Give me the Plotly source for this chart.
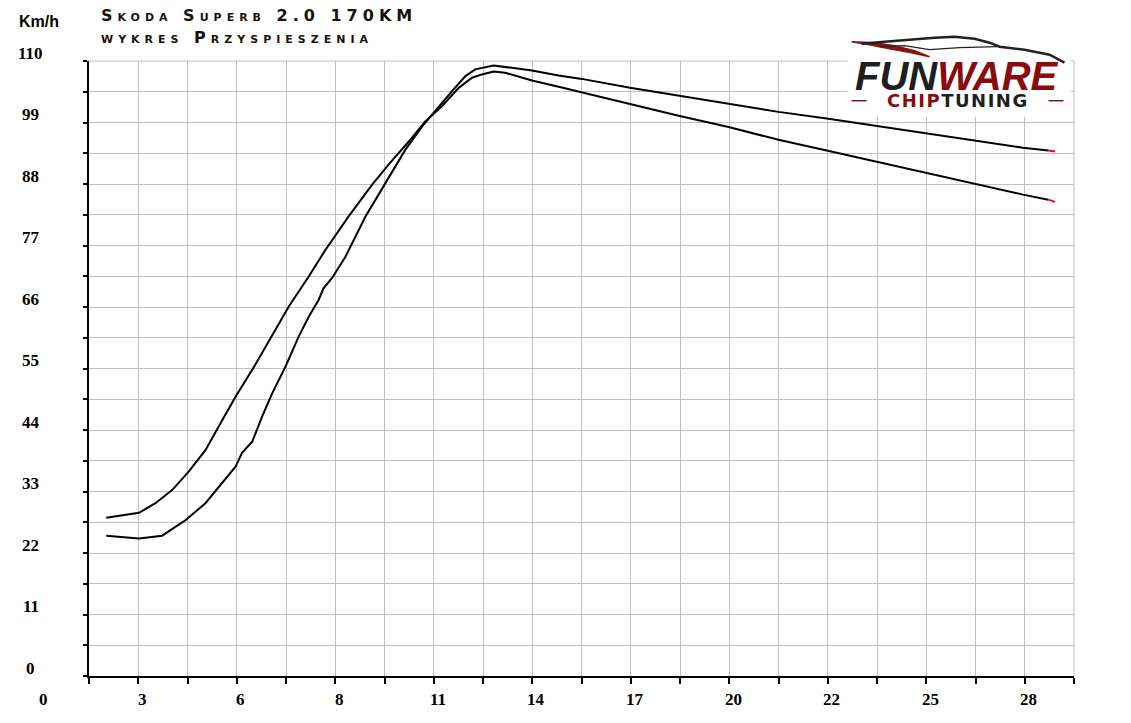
import plotly.graph_objects as go

# ---------------- data ----------------
x_tick_vals = [0, 2.8, 5.6, 8.4, 11.2, 14.0, 16.8, 19.6, 22.4, 25.2, 28.0]
x_tick_text = ["0", "3", "6", "8", "11", "14", "17", "20", "22", "25", "28"]
y_tick_vals = [0, 11, 22, 33, 44, 55, 66, 77, 88, 99, 110]
y_tick_text = ["0", "11", "22", "33", "44", "55", "66", "77", "88", "99", "110"]

time_a = [1.89, 2.82, 3.29, 3.77, 4.24, 4.71, 5.19, 5.57, 6.13, 6.61, 7.08, 7.65, 8.12,
          8.78, 9.45, 9.92, 10.49, 10.96, 11.43, 11.91, 12.29, 12.57, 12.90, 13.23, 13.99,
          14.75, 15.41, 16.78, 18.16, 19.58, 21.00, 22.37, 23.77, 25.16, 26.58, 27.95,
          28.67, 28.86]
speed_a = [28.3, 29.2, 30.9, 33.3, 36.6, 40.4, 45.8, 50.0, 55.7, 61.0, 66.1, 71.5, 76.2,
           82.2, 87.9, 91.5, 95.6, 99.2, 101.9, 105.2, 107.0, 107.6, 108.1, 107.9, 106.5,
           105.4, 104.4, 102.3, 100.2, 98.2, 95.9, 94.0, 92.0, 90.0, 88.0, 86.1,
           85.2, 84.8]

time_b = [1.89, 2.82, 3.48, 4.15, 4.71, 5.19, 5.57, 5.75, 6.04, 6.32, 6.61, 6.99, 7.36,
          7.65, 7.93, 8.07, 8.31, 8.69, 9.26, 9.83, 10.39, 10.87, 11.15, 11.72, 12.10,
          12.38, 12.90, 13.23, 13.99, 14.75, 15.41, 16.78, 18.16, 19.58, 21.00, 22.37,
          23.77, 25.16, 26.58, 27.95, 28.67, 28.86]
speed_b = [25.1, 24.6, 25.1, 27.9, 30.9, 34.5, 37.5, 39.9, 41.9, 46.4, 50.6, 55.4, 60.7,
           64.3, 67.3, 69.4, 71.2, 75.0, 82.2, 88.2, 94.1, 98.3, 100.4, 104.6, 107.3,
           108.5, 109.2, 108.9, 108.3, 107.4, 106.8, 105.2, 103.8, 102.3, 100.9, 99.7,
           98.4, 97.2, 95.9, 94.5, 94.0, 93.8]

title_1 = "Skoda Superb 2.0 170KM"
title_2 = "wykres Przyspieszenia"
unit_label = "Km/h"

X_MIN, X_MAX = 1.4, 29.4
Y_MIN, Y_MAX = 0, 110

# ---------------- layout geometry (page pixels) ----------------
OFF = 8  # default body margin of the html page
W, H = 1131 - OFF, 723 - OFF
L, R, T, B = 89.3, 1074.5, 61.3, 676.0
PW, PH = R - L, B - T


def px(xp):
    return (xp - L) / PW


def py(yp):
    return (B - yp) / PH


def path_px(points, close=False):
    s = "M " + " L ".join(f"{px(a):.5f},{py(b):.5f}" for a, b in points)
    return s + (" Z" if close else "")


fig = go.Figure()

for t, s in ((time_a, speed_a), (time_b, speed_b)):
    fig.add_trace(go.Scatter(x=t[:-1], y=s[:-1], mode="lines",
                             line=dict(color="black", width=2), hoverinfo="skip",
                             showlegend=False))
    fig.add_trace(go.Scatter(x=t[-2:], y=s[-2:], mode="lines",
                             line=dict(color="#ff0000", width=2), hoverinfo="skip",
                             showlegend=False))

grid = "#c0c0c0"
fig.update_xaxes(range=[X_MIN, X_MAX], tick0=X_MIN, dtick=1.4, showgrid=True,
                 gridcolor=grid, gridwidth=1, showline=True, linecolor="black",
                 linewidth=2, ticks="outside", ticklen=6, tickcolor="black",
                 tickwidth=1.5, showticklabels=False, zeroline=False, fixedrange=True)
fig.update_yaxes(range=[Y_MIN, Y_MAX], tick0=0, dtick=5.5, showgrid=True,
                 gridcolor=grid, gridwidth=1, showline=True, linecolor="black",
                 linewidth=2, ticks="outside", ticklen=4, tickcolor="black",
                 tickwidth=1.5, showticklabels=False, zeroline=False, fixedrange=True)

shapes = [
    dict(type="line", xref="paper", yref="paper", x0=0, x1=1, y0=1, y1=1,
         line=dict(color=grid, width=1), layer="below"),
    dict(type="line", xref="paper", yref="paper", x0=1, x1=1, y0=0, y1=1,
         line=dict(color=grid, width=1), layer="below"),
    # logo white background
    dict(type="rect", xref="paper", yref="paper", x0=px(848), x1=px(1071),
         y0=py(117), y1=py(35), fillcolor="white", line=dict(width=0), layer="above"),
    # logo swooshes
    dict(type="path", xref="paper", yref="paper",
         path=path_px([(852, 42), (870, 45), (890, 49), (912, 53), (930, 57), (915, 51),
                       (895, 46), (875, 43), (852, 42)], close=True),
         fillcolor="#8b1212", line=dict(color="#8b1212", width=1.5), layer="above"),
    dict(type="path", xref="paper", yref="paper",
         path=path_px([(862, 44), (885, 42), (910, 40), (935, 38), (955, 37), (975, 39),
                       (990, 43), (1000, 47), (1025, 50), (1050, 55), (1065, 63)]),
         line=dict(color="#222222", width=2.5), layer="above"),
    dict(type="path", xref="paper", yref="paper",
         path=path_px([(880, 47), (905, 46), (930, 50), (960, 48), (998, 47)]),
         line=dict(color="#222222", width=1.2), layer="above"),
    dict(type="line", xref="paper", yref="paper", x0=px(852), x1=px(867),
         y0=py(101), y1=py(101), line=dict(color="#8b1212", width=1.5), layer="above"),
    dict(type="line", xref="paper", yref="paper", x0=px(1049), x1=px(1064),
         y0=py(101), y1=py(101), line=dict(color="#8b1212", width=1.5), layer="above"),
]

num_font = dict(family="Liberation Serif", size=17, color="black")
annotations = []
for v, txt in zip(x_tick_vals, x_tick_text):
    annotations.append(dict(x=(v - X_MIN) / (X_MAX - X_MIN), y=py(699), xref="paper",
                            yref="paper", text=f"<b>{txt}</b>", showarrow=False,
                            xanchor="center", yanchor="middle", xshift=4, font=num_font))
for v, txt in zip(y_tick_vals, y_tick_text):
    annotations.append(dict(x=px(31), y=v, xref="paper", yref="y",
                            text=f"<b>{txt}</b>", showarrow=False, xanchor="center",
                            yanchor="middle", yshift=8, font=num_font))

annotations.append(dict(x=px(39), y=py(22), xref="paper", yref="paper",
                        text=f"<b>{unit_label}</b>", showarrow=False, xanchor="center",
                        yanchor="middle",
                        font=dict(family="Liberation Sans", size=16, color="black")))
title_font = dict(family="DejaVu Sans", size=16, color="#1a1208", variant="small-caps",
                  weight="bold")
spaced = "<span style='letter-spacing:5px'>{}</span>"
annotations.append(dict(x=px(99), y=py(16), xref="paper", yref="paper",
                        text=spaced.format(title_1), showarrow=False, xanchor="left",
                        yanchor="middle", font=title_font))
annotations.append(dict(x=px(99), y=py(38), xref="paper", yref="paper",
                        text=spaced.format(title_2), showarrow=False, xanchor="left",
                        yanchor="middle", font=title_font))

# logo text
annotations.append(dict(
    x=px(957), y=py(76), xref="paper", yref="paper", showarrow=False,
    xanchor="center", yanchor="middle",
    text="<b><i><span style='color:#1e1e1e'>FUN</span>"
         "<span style='color:#8b0a0a'>WARE</span></i></b>",
    font=dict(family="Liberation Sans", size=40)))
annotations.append(dict(
    x=px(958), y=py(100.5), xref="paper", yref="paper", showarrow=False,
    xanchor="center", yanchor="middle",
    text="<b><span style='color:#8b0a0a;letter-spacing:1.5px'>CHIP</span>"
         "<span style='color:#1e1e1e;letter-spacing:1.5px'>TUNING</span></b>",
    font=dict(family="DejaVu Sans", size=18)))

fig.update_layout(width=W, height=H, autosize=False,
                  margin=dict(l=L - OFF, r=(W + OFF) - R, t=T - OFF, b=(H + OFF) - B,
                              pad=0),
                  plot_bgcolor="white", paper_bgcolor="white",
                  shapes=shapes, annotations=annotations, showlegend=False)

fig.write_html("out.html")
